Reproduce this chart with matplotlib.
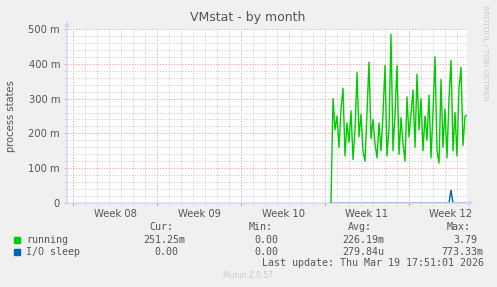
import numpy as np
import matplotlib
matplotlib.use("Agg")
import matplotlib.pyplot as plt

W, H = 497, 287
BACK = "#F0F0F0"
FONT = "#555555"
AXIS = "#CFD6F8"
GRID = "#D6D6D6"
MGRID = "#EBB0B0"

# samples every 4 hours, values in milli process states
running_m = [0, 300, 210, 250, 160, 270, 330, 135, 230, 175, 265, 125, 210, 375,
             190, 255, 150, 120, 260, 405, 185, 240, 170, 130, 230, 150, 255, 395,
             135, 215, 485, 150, 255, 395, 140, 245, 170, 120, 305, 190, 255, 325,
             160, 370, 210, 300, 150, 250, 180, 310, 130, 260, 420, 150, 115, 355,
             160, 270, 130, 300, 410, 150, 260, 135, 330, 390, 165, 250, 251]
io_sleep_m = [0] * 60 + [37] + [0] * 8
start_day = 21.5          # days after the Monday of week 08
step_day = 1 / 6

week_labels = ["Week 08", "Week 09", "Week 10", "Week 11", "Week 12"]
y_ticks = [0, 100, 200, 300, 400, 500]

legend_rows = [
    ("running", "#00CC00", ["251.25m", "0.00", "226.19m", "3.79"]),
    ("I/O sleep", "#0066B3", ["0.00", "0.00", "279.84u", "773.33m"]),
]
col_heads = ["Cur:", "Min:", "Avg:", "Max:"]
last_update = "Last update: Thu Mar 19 17:51:01 2026"


def px(x, y):
    return x / W, 1 - y / H


fig = plt.figure(figsize=(W / 100, H / 100), dpi=100)
fig.patch.set_facecolor(BACK)
x0, y0 = px(67, 203)
x1, y1 = px(467, 29)
ax = fig.add_axes([x0, y0, x1 - x0, y1 - y0])
ax.set_facecolor("white")

t = start_day + step_day * np.arange(len(running_m))
ax.plot(t, io_sleep_m, color="#0066B3", lw=1, zorder=3)
ax.plot(t, running_m, color="#00CC00", lw=1, zorder=4)

ax.set_xlim(-0.5, 32.833)
ax.set_ylim(0, 500)

# grid
dash = (0, (1.4, 1.4))
for d in range(0, 33):
    ax.axvline(d, color=MGRID if d % 7 == 0 else GRID, lw=0.72, ls=dash, zorder=1)
for v in range(20, 501, 20):
    ax.axhline(v, color=MGRID if v % 100 == 0 else GRID, lw=0.72, ls=dash, zorder=1)

for s in ax.spines.values():
    s.set_visible(False)

ax.set_xticks([3.5 + 7 * i for i in range(5)], week_labels)
ax.set_xticks(range(0, 33), minor=True)
ax.set_yticks(y_ticks, [f"{v} m" if v else "0" for v in y_ticks])
ax.set_yticks(range(0, 501, 20), minor=True)
ax.tick_params(axis="x", which="major", length=0, pad=4, labelsize=7.2, labelcolor=FONT)
ax.tick_params(axis="y", which="major", length=2, color=MGRID, pad=3,
               labelsize=7.2, labelcolor=FONT)
ax.tick_params(which="minor", length=2, color=GRID, width=0.7)

# red ticks under week boundaries
ax.vlines(range(0, 33, 7), -0.012, 0, color="#D88080", lw=0.8,
          transform=ax.get_xaxis_transform(), clip_on=False)

# axis lines with arrows
arrow = dict(arrowstyle="-|>", color=AXIS, lw=1, mutation_scale=7, shrinkA=0, shrinkB=0)
ax.annotate("", xy=(1.017, 0), xytext=(0, 0), xycoords="axes fraction", arrowprops=arrow)
ax.annotate("", xy=(0, 1.045), xytext=(0, 0), xycoords="axes fraction", arrowprops=arrow)

fig.text(*px(248, 18), "VMstat - by month", ha="center", va="center",
         fontsize=9, color=FONT)
fig.text(*px(11, 116), "process states", rotation=90, ha="center", va="center",
         fontsize=7.2, color=FONT)
fig.text(*px(485, 53), "RRDTOOL / TOBI OETIKER", rotation=270, ha="center",
         va="center", fontsize=5.4, color="#C8C8C8")

mono = dict(family="DejaVu Sans Mono", fontsize=7.2, color=FONT, va="center")
for head, xl in zip(col_heads, [149, 249, 348, 447]):
    fig.text(*px(xl, 227.5), head, ha="left", **mono)

right_edges = [[185, 278, 384, 477], [178, 278, 384, 483]]
for (name, color, vals), ycen, edges in zip(legend_rows, [240, 252], right_edges):
    fig.patches.append(plt.Rectangle(px(14, ycen + 3), 6 / W, 6 / H, color=color,
                                     transform=fig.transFigure, figure=fig))
    fig.text(*px(26.5, ycen), name, ha="left", **mono)
    for v, xr in zip(vals, edges):
        fig.text(*px(xr, ycen), v, ha="right", **mono)

fig.text(*px(262, 263.5), last_update, ha="left", **mono)
fig.text(*px(248, 276), "Munin 2.0.57", ha="center", va="center",
         fontsize=5.5, color="#C8C8C8")

fig.savefig("out.png", dpi=100, facecolor=BACK)
